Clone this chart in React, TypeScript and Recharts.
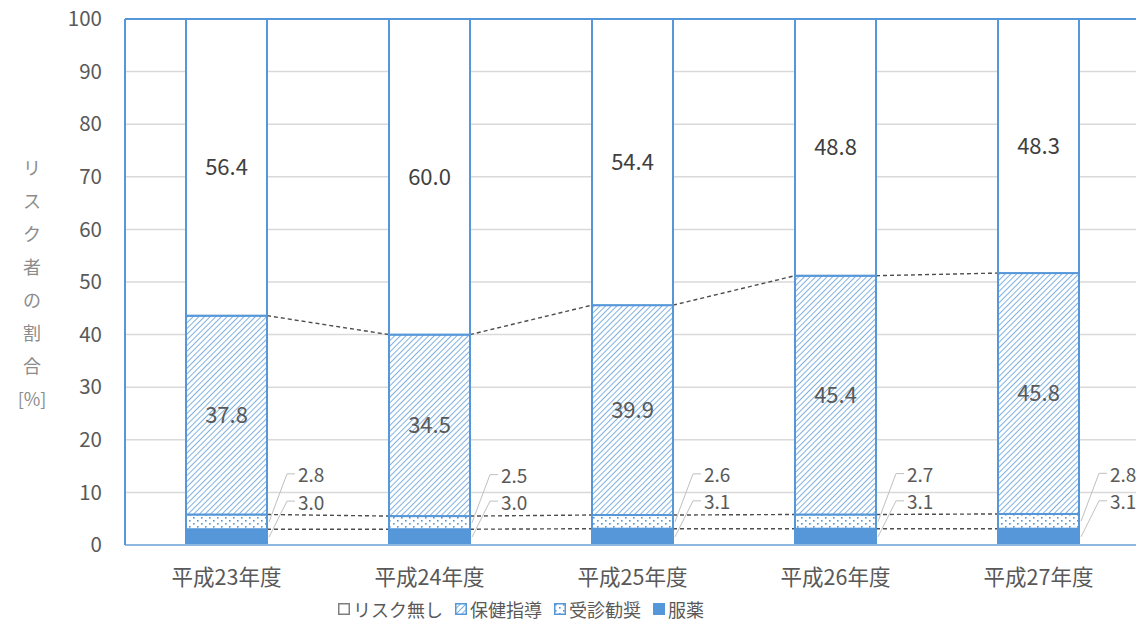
import React from 'react';
import { BarChart, Bar, XAxis, YAxis, CartesianGrid, LabelList, ReferenceLine, Legend } from 'recharts';

const categories = ['平成23年度', '平成24年度', '平成25年度', '平成26年度', '平成27年度'];
const fukuyaku = [3.0, 3.0, 3.1, 3.1, 3.1];
const jushin = [2.8, 2.5, 2.6, 2.7, 2.8];
const hoken = [37.8, 34.5, 39.9, 45.4, 45.8];
const riskNone = [56.4, 60.0, 54.4, 48.8, 48.3];
const yTicks = [0, 10, 20, 30, 40, 50, 60, 70, 80, 90, 100];
const seriesNames = ['服薬', '受診勧奨', '保健指導', 'リスク無し'];
const yLabelChars = ['リ', 'ス', 'ク', '者', 'の', '割', '合', '[%]'];

const stacks = [fukuyaku, jushin, hoken, riskNone];
const keys = ['fukuyaku', 'jushin', 'hoken', 'riskNone'];
const cumTop = stacks.map((_, k) =>
  categories.map((__, i) => stacks.slice(0, k + 1).reduce((s, arr) => s + arr[i], 0))
);

const data = categories.map((c, i) => ({
  name: c,
  fukuyaku: fukuyaku[i],
  jushin: jushin[i],
  hoken: hoken[i],
  riskNone: riskNone[i],
}));

const W = 1150;
const H = 632;
const MARGIN = { top: 19, right: 10, left: 65, bottom: 8 };
const Y_W = 60;
const BAND = (W - MARGIN.left - MARGIN.right - Y_W) / categories.length;
const BLUE = '#5597d8';
const FONT = "'Noto Sans CJK JP', 'Noto Sans', sans-serif";
const fills = [BLUE, 'url(#dots)', 'url(#hatch)', '#ffffff'];

const makeShape = (k: number) => (props: any) => {
  const { x, y, width, height, index } = props;
  const v = stacks[k][index];
  const ppu = height / v;
  const zeroY = y + cumTop[k][index] * ppu;
  let series: React.ReactNode = null;
  if (k < 3 && index < categories.length - 1) {
    const ny = zeroY - cumTop[k][index + 1] * ppu;
    series = (
      <line x1={x + width} y1={y} x2={x + BAND} y2={ny} stroke="#4d4d4d" strokeWidth={1.4} strokeDasharray="4 3" />
    );
  }
  return (
    <g>
      <rect x={x} y={y} width={width} height={height} fill={fills[k]} stroke={BLUE} strokeWidth={2} />
      {series}
    </g>
  );
};

const makeSideLabel = (rise: number) => (props: any) => {
  const vb = props.viewBox || props;
  const { x, y, width, height } = vb;
  const value = props.value;
  const mid = y + height / 2;
  const ly = mid - rise;
  const x0 = x + width;
  return (
    <g>
      <polyline
        points={`${x0 + 2},${mid} ${x0 + 20},${ly} ${x0 + 28},${ly}`}
        fill="none"
        stroke="#bfbfbf"
        strokeWidth={1}
      />
      <text x={x0 + 31} y={ly} dominantBaseline="central" fontSize={19} fill="#595959" fontFamily={FONT}>
        {Number(value).toFixed(1)}
      </text>
    </g>
  );
};

const YLabel = (props: any) => {
  const vb = props.viewBox;
  return (
    <g>
      {yLabelChars.map((ch, i) => (
        <text
          key={i}
          x={vb.x - 33}
          y={vb.y + 148 + i * 33}
          textAnchor="middle"
          dominantBaseline="central"
          fontSize={18}
          fill="#8c8c8c"
          fontFamily={FONT}
        >
          {ch}
        </text>
      ))}
    </g>
  );
};

const LegendIcon = ({ k }: { k: number }) => (
  <svg width={12} height={12} style={{ marginRight: 3, display: 'block' }}>
    <rect x={0.75} y={0.75} width={10.5} height={10.5} fill={fills[k]} stroke={k === 3 ? '#7f7f7f' : BLUE} strokeWidth={1.5} />
  </svg>
);

const renderLegend = () => {
  const order = [3, 2, 1, 0];
  return (
    <div style={{ display: 'flex', alignItems: 'center', height: 30, fontFamily: FONT, fontSize: 18, color: '#595959' }}>
      {order.map((k) => (
        <div key={k} style={{ display: 'flex', alignItems: 'center', marginRight: 12 }}>
          <LegendIcon k={k} />
          <span>{seriesNames[k]}</span>
        </div>
      ))}
    </div>
  );
};

const Patterns = () => (
  <defs>
    <pattern id="hatch" width={4} height={4} patternUnits="userSpaceOnUse" patternTransform="rotate(45)">
      <rect width={4} height={4} fill="#ffffff" />
      <line x1={0} y1={0} x2={0} y2={4} stroke={BLUE} strokeWidth={1.5} />
    </pattern>
    <pattern id="dots" width={8} height={6} patternUnits="userSpaceOnUse">
      <rect width={8} height={6} fill="#ffffff" />
      <rect x={1} y={1} width={1.6} height={1.6} fill={BLUE} />
      <rect x={5} y={4} width={1.6} height={1.6} fill={BLUE} />
    </pattern>
  </defs>
);

export default function App() {
  return (
    <div style={{ position: 'absolute', left: 0, top: 0, width: 1136, height: 632, overflow: 'hidden', background: '#fff' }}>
      <svg width={0} height={0} style={{ position: 'absolute' }}>
        <Patterns />
      </svg>
      <BarChart width={W} height={H} data={data} margin={MARGIN} barSize={81} style={{ fontFamily: FONT }}>
        <CartesianGrid vertical={false} stroke="#d9d9d9" strokeWidth={1.5} />
        <XAxis
          dataKey="name"
          height={49}
          tickLine={false}
          tickMargin={19}
          axisLine={{ stroke: '#8fb8e0', strokeWidth: 2 }}
          tick={{ fill: '#595959', fontSize: 21.5, fontFamily: FONT }}
        />
        <YAxis
          width={Y_W}
          domain={[0, 100]}
          ticks={yTicks}
          interval={0}
          tickLine={false}
          tickMargin={17}
          axisLine={{ stroke: BLUE, strokeWidth: 2 }}
          tick={{ fill: '#595959', fontSize: 20.5, fontFamily: FONT }}
          label={{ content: YLabel }}
        />
        <ReferenceLine y={100} stroke={BLUE} strokeWidth={2} />
        <Legend
          verticalAlign="bottom"
          height={30}
          content={renderLegend}
          wrapperStyle={{ left: 338, width: 500 }}
        />
        {keys.map((key, k) => (
          <Bar key={key} dataKey={key} name={seriesNames[k]} stackId="a" isAnimationActive={false} shape={makeShape(k)}>
            {k >= 2 ? (
              <LabelList
                dataKey={key}
                position="center"
                fontSize={22}
                fill={k === 3 ? '#404040' : '#595959'}
                fontFamily={FONT}
                formatter={(v: any) => Number(v).toFixed(1)}
              />
            ) : (
              <LabelList dataKey={key} content={makeSideLabel(k === 1 ? 48 : 36)} />
            )}
          </Bar>
        ))}
      </BarChart>
    </div>
  );
}
